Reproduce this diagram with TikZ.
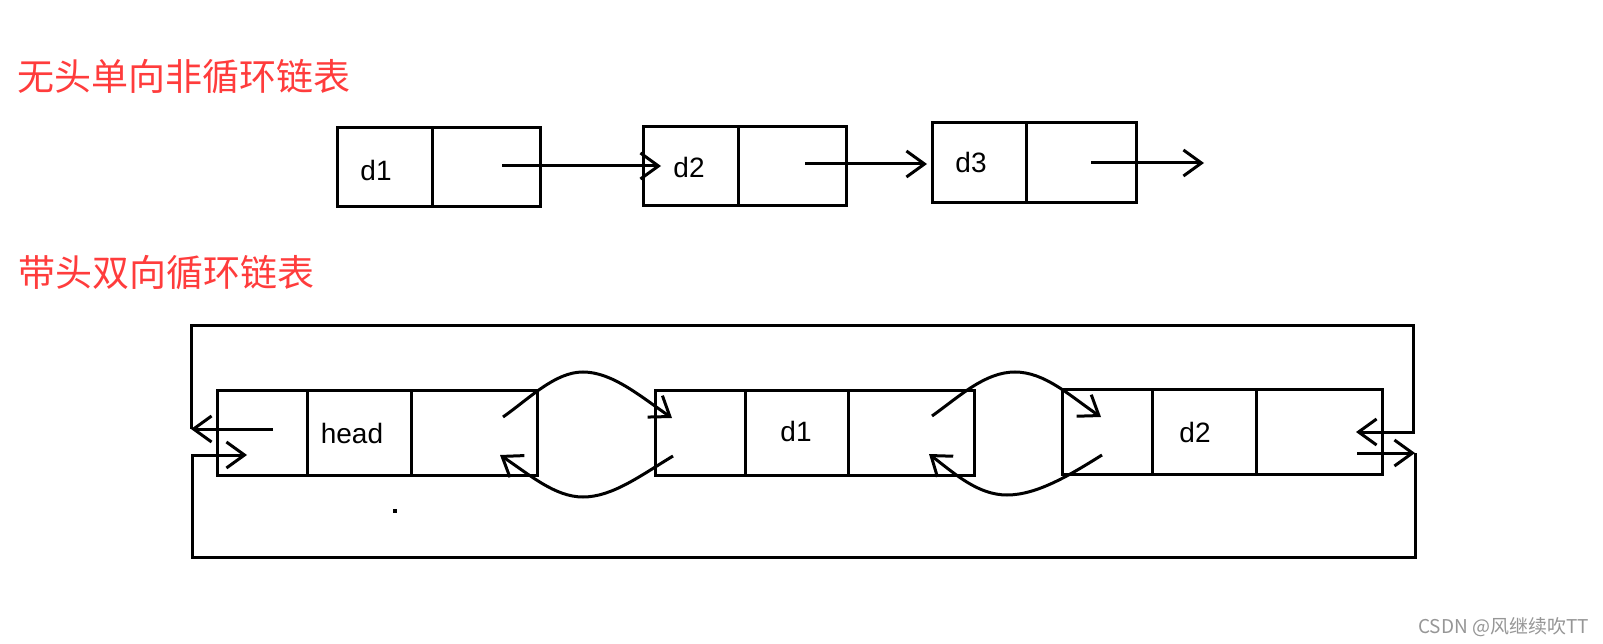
\documentclass[tikz,border=0pt]{standalone}
\usepackage{fontspec}
\setmainfont{Liberation Sans}
\newfontfamily\cjk{Noto Sans CJK SC}
\usetikzlibrary{arrows.meta}
\definecolor{titlered}{RGB}{255,60,60}
\definecolor{wmgray}{RGB}{150,150,150}
\tikzset{
  cell/.style={draw, line width=3pt, inner sep=0pt, outer sep=0pt},
  lbl/.style={inner sep=0pt, font=\fontsize{28}{30}\selectfont},
  ttl/.style={inner sep=0pt, anchor=west, text=titlered, font=\cjk\fontsize{37}{40}\selectfont},
  ptr/.style={line width=3pt, -{Straight Barb[length=18pt,width=26pt]}},
}
\begin{document}
\begin{tikzpicture}[x=1pt,y=-1pt]
\fill[white] (0,0) rectangle (1603,644);
\useasboundingbox (0,0) rectangle (1603,644);

% titles
\node[ttl] (t1) at (17,77) {无头单向非循环链表};
\node[ttl] (t2) at (18,273) {带头双向循环链表};

% top row cells
\node[cell, minimum width=95pt, minimum height=79pt] (a1) at (384.5,167.5) {};
\node[cell, minimum width=108pt, minimum height=79pt] (a1n) at (486,167.5) {};
\node[cell, minimum width=95pt, minimum height=79pt] (a2) at (690.5,166.5) {};
\node[cell, minimum width=108pt, minimum height=79pt] (a2n) at (792,166.5) {};
\node[cell, minimum width=94pt, minimum height=80pt] (a3) at (979,163) {};
\node[cell, minimum width=110pt, minimum height=80pt] (a3n) at (1081,163) {};
\node[lbl] (ta1) at (376,170) {d1};
\node[lbl] (ta2) at (689,167) {d2};
\node[lbl] (ta3) at (971,162) {d3};

% top row pointers
\coordinate (s1) at (502,166); \coordinate (e1) at (661,166);
\coordinate (s2) at (805,164); \coordinate (e2) at (927,164);
\coordinate (s3) at (1091,163); \coordinate (e3) at (1204,163);
\draw[ptr] (s1) -- (e1);
\draw[ptr] (s2) -- (e2);
\draw[ptr] (s3) -- (e3);

% bottom row cells
\node[cell, minimum width=90pt, minimum height=85pt] (hp) at (262,432.5) {};
\node[cell, minimum width=104pt, minimum height=85pt] (hd) at (359,432.5) {};
\node[cell, minimum width=126pt, minimum height=85pt] (hn) at (474,432.5) {};
\node[cell, minimum width=90pt, minimum height=85pt] (b1p) at (700,432.5) {};
\node[cell, minimum width=103pt, minimum height=85pt] (b1d) at (796.5,432.5) {};
\node[cell, minimum width=126pt, minimum height=85pt] (b1n) at (911,432.5) {};
\node[cell, minimum width=90pt, minimum height=85pt] (b2p) at (1107,431.5) {};
\node[cell, minimum width=104pt, minimum height=85pt] (b2d) at (1204,431.5) {};
\node[cell, minimum width=126pt, minimum height=85pt] (b2n) at (1319,431.5) {};
\node[lbl] (th) at (352,433) {head};
\node[lbl] (tb1) at (796,431) {d1};
\node[lbl] (tb2) at (1195,432) {d2};

% circular loop
\coordinate (hpS) at (273,429); \coordinate (L1) at (191,429);
\coordinate (LT) at (191,325); \coordinate (RT) at (1413,325);
\coordinate (R1) at (1413,432); \coordinate (b2nE) at (1356,432);
\draw[ptr] (hpS) -- (L1);
\draw[ptr] (L1) -- (LT) -- (RT) -- (R1) -- (b2nE);

\coordinate (b2nS) at (1357,453); \coordinate (R2) at (1415,453);
\coordinate (RB) at (1415,557); \coordinate (LB) at (192,557);
\coordinate (L2) at (192,455); \coordinate (hpE) at (247,455);
\draw[ptr] (b2nS) -- (R2);
\draw[ptr] (R2) -- (RB) -- (LB) -- (L2) -- (hpE);

% curved links head <-> d1
\coordinate (c1s) at (503,417); \coordinate (c1e) at (672,418);
\coordinate (c2s) at (673,456); \coordinate (c2e) at (500,455);
\draw[ptr] (c1s) .. controls (530,398) and (555,372) .. (583,372) .. controls (612,372) and (640,396) .. (c1e);
\draw[ptr] (c2s) .. controls (640,476) and (612,497) .. (583,497) .. controls (555,497) and (530,475) .. (c2e);

% curved links d1 <-> d2
\coordinate (c3s) at (932,416); \coordinate (c3e) at (1101,417);
\coordinate (c4s) at (1102,455); \coordinate (c4e) at (929,454);
\draw[ptr] (c3s) .. controls (960,396) and (985,372) .. (1015,372) .. controls (1045,372) and (1070,396) .. (c3e);
\draw[ptr] (c4s) .. controls (1070,475) and (1037,495) .. (1007,495) .. controls (978,495) and (955,474) .. (c4e);

% small dot
\fill (393,509) rectangle (397,513);

% watermark
\node[anchor=east, inner sep=0pt, text=wmgray, font=\cjk\fontsize{19}{20}\selectfont] (wm) at (1589,627) {CSDN @风继续吹TT};
\end{tikzpicture}
\end{document}
